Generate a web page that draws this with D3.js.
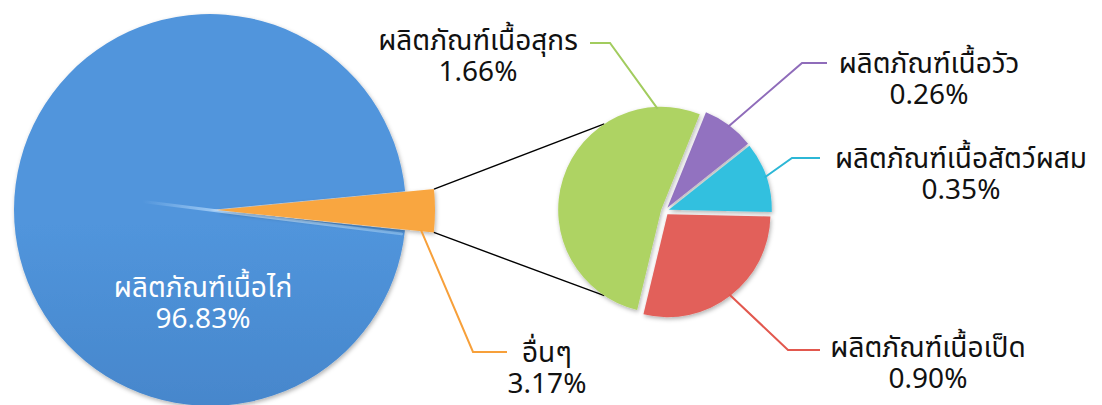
<!DOCTYPE html>
<html>
<head>
<meta charset="utf-8">
<script src="https://cdn.jsdelivr.net/npm/d3@7/dist/d3.min.js"></script>
<style>
  html, body { margin: 0; padding: 0; background: #fff; }
  svg { display: block; }
  text { font-family: Tahoma, "Noto Sans Thai", "Noto Sans", "DejaVu Sans", sans-serif; font-weight: 400; }
</style>
</head>
<body>
<svg id="chart" width="1102" height="405"></svg>
<script>
// Main pie: chicken products vs. everything else
const mainCategories = ["ผลิตภัณฑ์เนื้อไก่", "อื่นๆ"];
const mainValues = [96.83, 3.17];

// Secondary pie: breakdown of "อื่นๆ"
const subCategories = ["ผลิตภัณฑ์เนื้อวัว", "ผลิตภัณฑ์เนื้อสัตว์ผสม", "ผลิตภัณฑ์เนื้อเป็ด", "ผลิตภัณฑ์เนื้อสุกร"];
const subValues = [0.26, 0.35, 0.90, 1.66];

const mainColors = [["#5195dc", "#3a76b9"], ["#f9a640", "#e5841a"]];
const subColors = [["#9272c0", "#7658a4"], ["#33c0df", "#1c9cbd"], ["#e2605a", "#c4423a"], ["#aed363", "#91b946"]];

const rad = d => d * Math.PI / 180;
const fmt = v => d3.format(".2f")(v) + "%";
const polar = (cx, cy, r, a) => [cx + r * Math.sin(a), cy - r * Math.cos(a)];

const svg = d3.select("#chart");
const defs = svg.append("defs");

const shadow = defs.append("filter").attr("id", "shadow")
  .attr("x", "-20%").attr("y", "-20%").attr("width", "140%").attr("height", "140%");
shadow.append("feDropShadow").attr("dx", 1).attr("dy", 2).attr("stdDeviation", 2)
  .attr("flood-color", "#000").attr("flood-opacity", 0.3);

function vGrad(id, c, y1, y2) {
  const g = defs.append("linearGradient").attr("id", id)
    .attr("gradientUnits", "userSpaceOnUse")
    .attr("x1", 0).attr("x2", 0).attr("y1", y1).attr("y2", y2);
  g.append("stop").attr("offset", 0).attr("stop-color", c[0]);
  g.append("stop").attr("offset", 1).attr("stop-color", c[1]);
}

// ---------- main pie ----------
const mainCx = 210, mainCy = 210, mainR = 196;
const otherR = 218, otherExplode = 7;
const orangeMid = rad(90.2);
const otherSpan = 2 * Math.PI * mainValues[1] / d3.sum(mainValues);
const mainStart = orangeMid + otherSpan / 2;

const mainPie = d3.pie().sort(null).value(d => d)
  .startAngle(mainStart).endAngle(mainStart + 2 * Math.PI);
const mainArcs = mainPie(mainValues);

vGrad("gMain0", mainColors[0], mainCy - mainR, mainCy + mainR);
vGrad("gMain1", mainColors[1], mainCy - 30, mainCy + 30);

const gMain = svg.append("g");

// chicken slice
gMain.append("path")
  .attr("transform", `translate(${mainCx},${mainCy})`)
  .attr("d", d3.arc().innerRadius(0).outerRadius(mainR)(mainArcs[0]))
  .attr("fill", "url(#gMain0)")
  .attr("filter", "url(#shadow)");

// light bevel streak along the lower edge of the gap
const edgeA = mainArcs[0].startAngle + rad(1.2);
const streakStart = polar(mainCx, mainCy, -68, edgeA);
const streakEnd = polar(mainCx, mainCy, mainR - 3, edgeA);
const sg = defs.append("linearGradient").attr("id", "streak")
  .attr("gradientUnits", "userSpaceOnUse")
  .attr("x1", streakStart[0]).attr("y1", streakStart[1])
  .attr("x2", streakEnd[0]).attr("y2", streakEnd[1]);
sg.append("stop").attr("offset", 0).attr("stop-color", "#bfe0ff").attr("stop-opacity", 0);
sg.append("stop").attr("offset", 0.35).attr("stop-color", "#bfe0ff").attr("stop-opacity", 0.85);
sg.append("stop").attr("offset", 1).attr("stop-color", "#8fc3f2").attr("stop-opacity", 0.7);
gMain.append("line")
  .attr("x1", streakStart[0]).attr("y1", streakStart[1])
  .attr("x2", streakEnd[0]).attr("y2", streakEnd[1])
  .attr("stroke", "url(#streak)").attr("stroke-width", 3).attr("stroke-linecap", "round");

// "other" slice, pulled out to the right
const oa = mainArcs[1];
const oMid = (oa.startAngle + oa.endAngle) / 2;
const [ocx, ocy] = polar(mainCx, mainCy, otherExplode, oMid);
gMain.append("path")
  .attr("transform", `translate(${ocx},${ocy})`)
  .attr("d", d3.arc().innerRadius(0).outerRadius(otherR)(oa))
  .attr("fill", "url(#gMain1)")
  .attr("filter", "url(#shadow)");

// ---------- secondary pie ----------
const subCx = 665, subCy = 211, subR = 103, subExplode = 4;
const subPie = d3.pie().sort(null).value(d => d)
  .startAngle(rad(22)).endAngle(rad(382));
const subArcs = subPie(subValues);
const subArc = d3.arc().innerRadius(0).outerRadius(subR);

const subCenters = subArcs.map(a => polar(subCx, subCy, subExplode, (a.startAngle + a.endAngle) / 2));

subArcs.forEach((a, i) => {
  vGrad("gSub" + i, subColors[i], subCy - subR, subCy + subR);
});

// connector lines from the pulled-out slice to the secondary pie
const greenIdx = 3;
const [gcx, gcy] = subCenters[greenIdx];
const cornerTop = polar(ocx, ocy, otherR, oa.startAngle);
const cornerBot = polar(ocx, ocy, otherR, oa.endAngle);
const tanTop = polar(gcx, gcy, subR, rad(326.5));
const tanBot = polar(gcx, gcy, subR, rad(213.5));
svg.append("g").attr("stroke", "#000").attr("stroke-width", 1.4)
  .selectAll("line").data([[cornerTop, tanTop], [cornerBot, tanBot]])
  .join("line")
  .attr("x1", d => d[0][0]).attr("y1", d => d[0][1])
  .attr("x2", d => d[1][0]).attr("y2", d => d[1][1]);

svg.append("g").selectAll("path").data(subArcs).join("path")
  .attr("transform", (d, i) => `translate(${subCenters[i][0]},${subCenters[i][1]})`)
  .attr("d", subArc)
  .attr("fill", (d, i) => `url(#gSub${i})`)
  .attr("filter", "url(#shadow)");

// ---------- leader lines and labels ----------
const leaderColors = ["#8f6cba", "#2cb7d6", "#e2584e", "#a2cc5e"];
const subLayout = [
  { angle: null, elbow: [802, 63], end: [827, 63], tx: 929, ty: 73 },
  { angle: null, elbow: [792, 158], end: [820, 158], tx: 961, ty: 168 },
  { angle: null, elbow: [788, 350], end: [820, 350], tx: 928, ty: 357 },
  { angle: 358, elbow: [610, 43], end: [590, 43], tx: 478, ty: 50 }
];

const leaders = svg.append("g").attr("fill", "none").attr("stroke-width", 2);
subArcs.forEach((a, i) => {
  const L = subLayout[i];
  const ang = L.angle === null ? (a.startAngle + a.endAngle) / 2 : rad(L.angle);
  const p0 = polar(subCenters[i][0], subCenters[i][1], subR - 2, ang);
  leaders.append("path")
    .attr("d", d3.line()([p0, L.elbow, L.end]))
    .attr("stroke", leaderColors[i]);
});

// leader for the "other" slice
const otherLeadStart = polar(ocx, ocy, 205, oa.endAngle - rad(0.3));
leaders.append("path")
  .attr("d", d3.line()([otherLeadStart, [473, 352], [507, 352]]))
  .attr("stroke", "#f7a03a");

const labels = svg.append("g").attr("font-size", 28).attr("text-anchor", "middle").attr("fill", "#111");
function twoLine(g, x, y, name, value, color) {
  const t = g.append("text").attr("x", x).attr("y", y).attr("fill", color);
  t.append("tspan").attr("x", x).attr("y", y).text(name);
  t.append("tspan").attr("x", x).attr("y", y + 31).text(fmt(value));
}

subArcs.forEach((a, i) => {
  const L = subLayout[i];
  twoLine(labels, L.tx, L.ty, subCategories[i], subValues[i], "#111");
});
twoLine(labels, 547, 362, mainCategories[1], mainValues[1], "#111");
twoLine(labels, 203, 297, mainCategories[0], mainValues[0], "#fff");
</script>
</body>
</html>
